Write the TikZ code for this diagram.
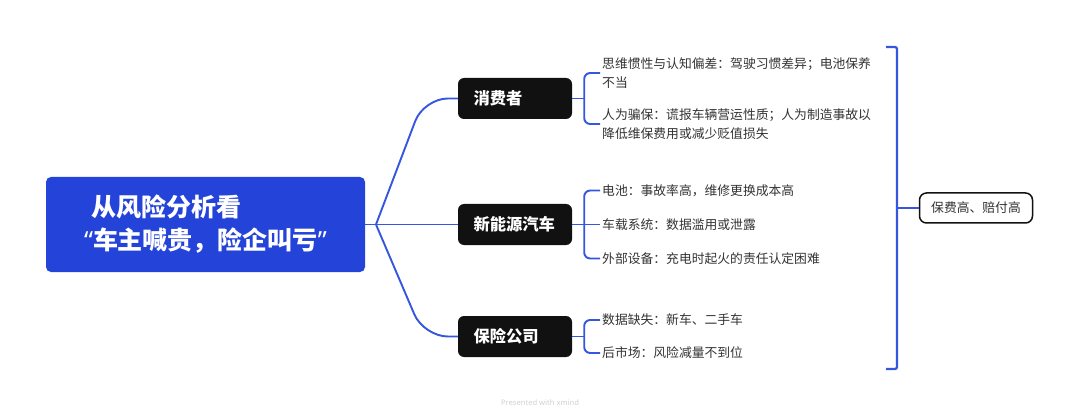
\documentclass[tikz,border=0pt]{standalone}
\usepackage{fontspec}
\setmainfont{Noto Sans CJK SC}
\newfontfamily\latinsans{Noto Sans}
\usetikzlibrary{calc}
\definecolor{rootblue}{HTML}{2443D9}
\definecolor{linkblue}{HTML}{3556DE}
\definecolor{branchblack}{HTML}{111111}
\definecolor{itemgray}{HTML}{333333}
\tikzset{
  rootbox/.style={fill=rootblue, rounded corners=5pt, minimum width=319pt, minimum height=95pt,
    text=white, font=\bfseries\fontsize{25}{33}\selectfont, align=left, inner sep=0pt},
  branchbox/.style={fill=branchblack, rounded corners=6pt, minimum height=41pt,
    text width=83pt, inner xsep=15.5pt, inner ysep=0pt, align=left,
    text=white, font=\bfseries\fontsize{16.3}{20}\selectfont},
  itemtext/.style={anchor=west, inner xsep=2pt, inner ysep=0pt, align=left,
    text=itemgray, font=\fontsize{12.8}{19}\selectfont},
  sumbox/.style={draw=branchblack, line width=1.5pt, fill=white, rounded corners=7pt,
    minimum width=113pt, minimum height=30pt, inner sep=0pt,
    text=itemgray, font=\fontsize{12.8}{16}\selectfont},
  conn/.style={draw=linkblue, line width=1.9pt},
  footer/.style={text=black!18, font=\latinsans\fontsize{7.6}{9}\selectfont}
}
\begin{document}
\begin{tikzpicture}[x=1pt, y=-1pt]
\useasboundingbox[fill=white] (0,0) rectangle (1080,417);

% root
\node[rootbox] (root) at (205.5,224.5) {\hspace*{7pt}从风险分析看\\{\latinsans “}车主喊贵，险企叫亏{\latinsans ”}};

% branches
\node[branchbox] (b1) at (515,98.5) {消费者};
\node[branchbox] (b2) at (515,224.5) {新能源汽车};
\node[branchbox] (b3) at (515,336.5) {保险公司};

% items
\node[itemtext] (a1) at (600,73) {思维惯性与认知偏差：驾驶习惯差异；电池保养\\不当};
\node[itemtext] (a2) at (600,124) {人为骗保：谎报车辆营运性质；人为制造事故以\\降低维保费用或减少贬值损失};
\node[itemtext] (c1) at (600,190.5) {电池：事故率高，维修更换成本高};
\node[itemtext] (c2) at (600,224.5) {车载系统：数据滥用或泄露};
\node[itemtext] (c3) at (600,258.5) {外部设备：充电时起火的责任认定困难};
\node[itemtext] (d1) at (600,320) {数据缺失：新车、二手车};
\node[itemtext] (d2) at (600,353) {后市场：风险减量不到位};

% summary
\node[sumbox] (sum) at (976,208) {保费高、赔付高};

% root connectors
\coordinate (fan) at (376,224.5);
\draw[conn] (root.east) -- (fan);
\draw[conn, rounded corners=24pt] (fan) -- ([xshift=-34pt]b1.west) -- (b1.west);
\draw[conn] (fan) -- (b2.west);
\draw[conn, rounded corners=24pt] (fan) -- ([xshift=-34pt]b3.west) -- (b3.west);

% brackets
\coordinate (k1) at ([xshift=12pt]b1.east);
\draw[conn] (b1.east) -- (k1);
\draw[conn, rounded corners=6pt] (a1.west) -- (a1.west -| k1) -- (a2.west -| k1) -- (a2.west);

\coordinate (k2) at ([xshift=12pt]b2.east);
\draw[conn] (b2.east) -- (c2.west);
\draw[conn, rounded corners=6pt] (c1.west) -- (c1.west -| k2) -- (c3.west -| k2) -- (c3.west);

\coordinate (k3) at ([xshift=12pt]b3.east);
\draw[conn] (b3.east) -- (k3);
\draw[conn, rounded corners=6pt] (d1.west) -- (d1.west -| k3) -- (d2.west -| k3) -- (d2.west);

% summary bracket
\coordinate (bt) at (886,47);
\coordinate (bb) at (886,369);
\coordinate (bx) at (897,208);
\draw[conn, line width=2.2pt, rounded corners=2pt] (bt) -| (bx) |- (bb);
\draw[conn, line width=2.2pt] (bx) -- (sum.west);

% footer
\node[footer] (foot) at (540,403) {Presented with \textbf{xmind}};
\end{tikzpicture}
\end{document}
